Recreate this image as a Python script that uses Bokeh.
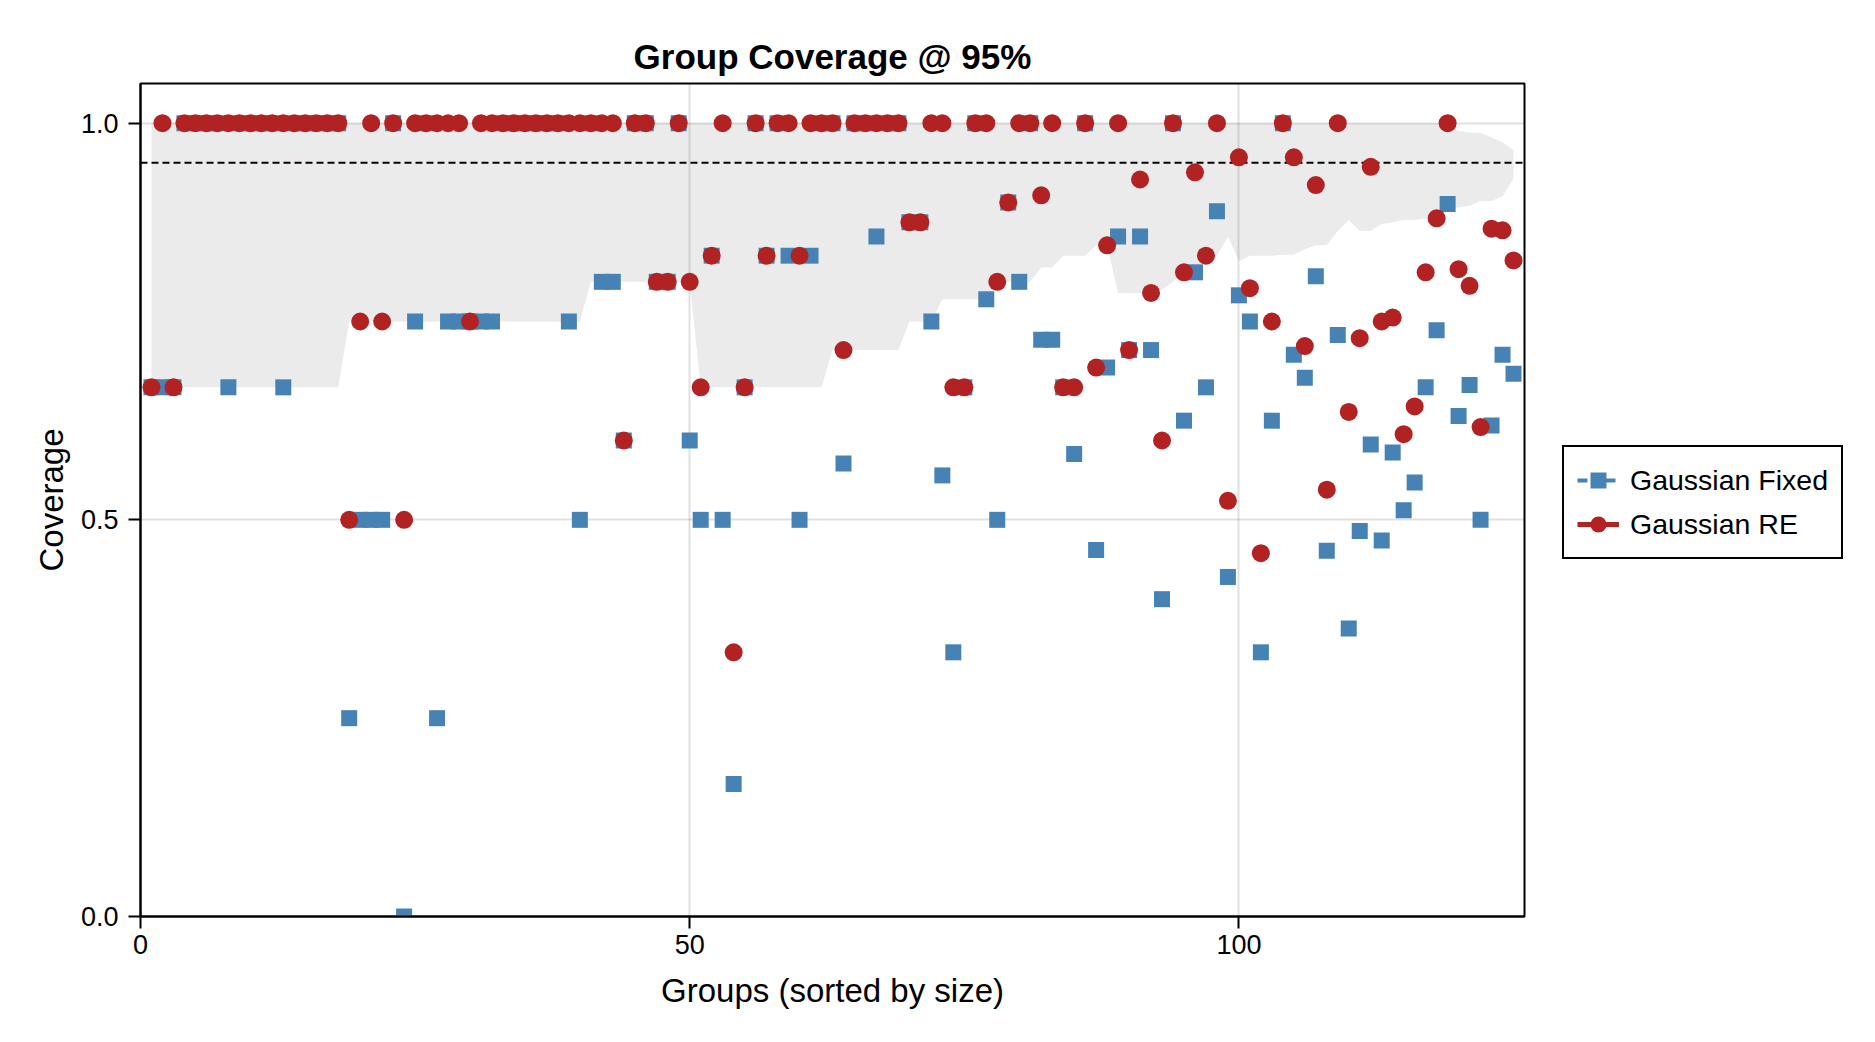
from bokeh.plotting import figure
from bokeh.layouts import row
from bokeh.models import (Span, Legend, LegendItem, FixedTicker,
                          PrintfTickFormatter, Range1d, ColumnDataSource)
from bokeh.embed import file_html
from bokeh.resources import INLINE

# Groups ordered by size
groups = [
    1, 2, 3, 4, 5, 6, 7, 8, 9, 10,
    11, 12, 13, 14, 15, 16, 17, 18, 19, 20,
    21, 22, 23, 24, 25, 26, 27, 28, 29, 30,
    31, 32, 33, 34, 35, 36, 37, 38, 39, 40,
    41, 42, 43, 44, 45, 46, 47, 48, 49, 50,
    51, 52, 53, 54, 55, 56, 57, 58, 59, 60,
    61, 62, 63, 64, 65, 66, 67, 68, 69, 70,
    71, 72, 73, 74, 75, 76, 77, 78, 79, 80,
    81, 82, 83, 84, 85, 86, 87, 88, 89, 90,
    91, 92, 93, 94, 95, 96, 97, 98, 99, 100,
    101, 102, 103, 104, 105, 106, 107, 108, 109, 110,
    111, 112, 113, 114, 115, 116, 117, 118, 119, 120,
    121, 122, 123, 124, 125,
]

# Per-group coverage, Gaussian model with fixed group effects
cov_fixed = [
    0.667, 0.667, 0.667, 1.0, 1.0, 1.0, 1.0, 0.667, 1.0, 1.0,
    1.0, 1.0, 0.667, 1.0, 1.0, 1.0, 1.0, 1.0, 0.25, 0.5,
    0.5, 0.5, 1.0, 0.0, 0.75, 1.0, 0.25, 0.75, 0.75, 0.75,
    0.75, 0.75, 1.0, 1.0, 1.0, 1.0, 1.0, 1.0, 0.75, 0.5,
    1.0, 0.8, 0.8, 0.6, 1.0, 1.0, 0.8, 0.8, 1.0, 0.6,
    0.5, 0.833, 0.5, 0.167, 0.667, 1.0, 0.833, 1.0, 0.833, 0.5,
    0.833, 1.0, 1.0, 0.571, 1.0, 1.0, 0.857, 1.0, 1.0, 0.875,
    0.875, 0.75, 0.556, 0.333, 0.667, 1.0, 0.778, 0.5, 0.9, 0.8,
    1.0, 0.727, 0.727, 0.667, 0.583, 1.0, 0.462, 0.692, 0.857, 0.714,
    0.857, 0.714, 0.4, 1.0, 0.625, 0.812, 0.667, 0.889, 0.428, 0.783,
    0.75, 0.333, 0.625, 1.0, 0.708, 0.679, 0.807, 0.461, 0.733, 0.363,
    0.486, 0.595, 0.474, 0.585, 0.512, 0.547, 0.667, 0.739, 0.898, 0.631,
    0.67, 0.5, 0.619, 0.708, 0.684,
]

# Per-group coverage, Gaussian model with random group effects
cov_re = [
    0.667, 1.0, 0.667, 1.0, 1.0, 1.0, 1.0, 1.0, 1.0, 1.0,
    1.0, 1.0, 1.0, 1.0, 1.0, 1.0, 1.0, 1.0, 0.5, 0.75,
    1.0, 0.75, 1.0, 0.5, 1.0, 1.0, 1.0, 1.0, 1.0, 0.75,
    1.0, 1.0, 1.0, 1.0, 1.0, 1.0, 1.0, 1.0, 1.0, 1.0,
    1.0, 1.0, 1.0, 0.6, 1.0, 1.0, 0.8, 0.8, 1.0, 0.8,
    0.667, 0.833, 1.0, 0.333, 0.667, 1.0, 0.833, 1.0, 1.0, 0.833,
    1.0, 1.0, 1.0, 0.714, 1.0, 1.0, 1.0, 1.0, 1.0, 0.875,
    0.875, 1.0, 1.0, 0.667, 0.667, 1.0, 1.0, 0.8, 0.9, 1.0,
    1.0, 0.909, 1.0, 0.667, 0.667, 1.0, 0.692, 0.846, 1.0, 0.714,
    0.929, 0.786, 0.6, 1.0, 0.812, 0.938, 0.833, 1.0, 0.524, 0.957,
    0.792, 0.458, 0.75, 1.0, 0.957, 0.719, 0.922, 0.538, 1.0, 0.636,
    0.729, 0.945, 0.75, 0.755, 0.608, 0.643, 0.812, 0.88, 1.0, 0.816,
    0.795, 0.617, 0.867, 0.865, 0.827,
]

# Expected sampling range of coverage for each group (lower / upper edge)
band_lo = [
    0.667, 0.667, 0.667, 0.667, 0.667, 0.667, 0.667, 0.667, 0.667, 0.667,
    0.667, 0.667, 0.667, 0.667, 0.667, 0.667, 0.667, 0.667, 0.75, 0.75,
    0.75, 0.75, 0.75, 0.75, 0.75, 0.75, 0.75, 0.75, 0.75, 0.75,
    0.75, 0.75, 0.75, 0.75, 0.75, 0.75, 0.75, 0.75, 0.75, 0.75,
    0.8, 0.8, 0.8, 0.8, 0.8, 0.8, 0.8, 0.8, 0.8, 0.8,
    0.667, 0.667, 0.667, 0.667, 0.667, 0.667, 0.667, 0.667, 0.667, 0.667,
    0.667, 0.667, 0.714, 0.714, 0.714, 0.714, 0.714, 0.714, 0.714, 0.75,
    0.75, 0.75, 0.778, 0.778, 0.778, 0.778, 0.778, 0.8, 0.8, 0.8,
    0.8, 0.818, 0.818, 0.833, 0.833, 0.833, 0.846, 0.846, 0.786, 0.786,
    0.786, 0.786, 0.79, 0.8, 0.812, 0.812, 0.833, 0.833, 0.857, 0.826,
    0.833, 0.833, 0.833, 0.834, 0.834, 0.841, 0.846, 0.846, 0.864, 0.878,
    0.864, 0.864, 0.873, 0.875, 0.878, 0.878, 0.88, 0.884, 0.888, 0.894,
    0.896, 0.902, 0.902, 0.908, 0.93,
]
band_hi = [
    1.0, 1.0, 1.0, 1.0, 1.0, 1.0, 1.0, 1.0, 1.0, 1.0,
    1.0, 1.0, 1.0, 1.0, 1.0, 1.0, 1.0, 1.0, 1.0, 1.0,
    1.0, 1.0, 1.0, 1.0, 1.0, 1.0, 1.0, 1.0, 1.0, 1.0,
    1.0, 1.0, 1.0, 1.0, 1.0, 1.0, 1.0, 1.0, 1.0, 1.0,
    1.0, 1.0, 1.0, 1.0, 1.0, 1.0, 1.0, 1.0, 1.0, 1.0,
    1.0, 1.0, 1.0, 1.0, 1.0, 1.0, 1.0, 1.0, 1.0, 1.0,
    1.0, 1.0, 1.0, 1.0, 1.0, 1.0, 1.0, 1.0, 1.0, 1.0,
    1.0, 1.0, 1.0, 1.0, 1.0, 1.0, 1.0, 1.0, 1.0, 1.0,
    1.0, 1.0, 1.0, 1.0, 1.0, 1.0, 1.0, 1.0, 1.0, 1.0,
    1.0, 1.0, 1.0, 1.0, 1.0, 1.0, 1.0, 1.0, 1.0, 1.0,
    1.0, 1.0, 1.0, 1.0, 1.0, 1.0, 1.0, 1.0, 1.0, 1.0,
    1.0, 1.0, 1.0, 1.0, 1.0, 1.0, 1.0, 1.0, 1.0, 0.99,
    0.988, 0.988, 0.982, 0.976, 0.966,
]

nominal = 0.95
x_ticks = [0, 50, 100]
y_ticks = [0.0, 0.5, 1.0]
series_names = ["Gaussian Fixed", "Gaussian RE"]

FONT = "Liberation Sans"
BLUE = "#4682B4"
RED = "#B22222"

p = figure(
    width=1526, height=1042,
    x_range=Range1d(0, 126), y_range=Range1d(0, 1.05),
    output_backend="svg", toolbar_location=None,
    min_border_left=140, min_border_right=2,
    min_border_top=83, min_border_bottom=126,
    title="Group Coverage @ 95%",
)
p.background_fill_color = "white"
p.border_fill_color = "white"
p.outline_line_color = "black"
p.outline_line_width = 2

p.title.text_font = FONT
p.title.text_font_size = "35px"
p.title.text_font_style = "bold"
p.title.text_color = "black"
p.title.align = "center"
p.title.standoff = 15

# Shaded expected range, kept beneath the grid
p.varea(x=groups, y1=band_lo, y2=band_hi, fill_color="#ebebeb", level="image")

# Nominal coverage reference
p.add_layout(Span(location=nominal, dimension="width", line_color="black",
                  line_width=2, line_dash="7 4", level="underlay"))

p.scatter(groups, cov_fixed, marker="square", size=16,
          fill_color=BLUE, line_color=None)
p.scatter(groups, cov_re, marker="circle", size=18,
          fill_color=RED, line_color=None)

for grid in (p.xgrid, p.ygrid):
    grid.grid_line_color = "black"
    grid.grid_line_alpha = 0.12
    grid.grid_line_width = 2
p.xgrid.ticker = FixedTicker(ticks=x_ticks)
p.ygrid.ticker = FixedTicker(ticks=y_ticks)

p.xaxis.ticker = FixedTicker(ticks=x_ticks)
p.yaxis.ticker = FixedTicker(ticks=y_ticks)
p.yaxis.formatter = PrintfTickFormatter(format="%.1f")
p.xaxis.axis_label = "Groups (sorted by size)"
p.yaxis.axis_label = "Coverage"

for ax in (p.xaxis[0], p.yaxis[0]):
    ax.axis_line_color = "black"
    ax.axis_line_width = 2
    ax.major_tick_line_color = "black"
    ax.major_tick_line_width = 2
    ax.major_tick_out = 12
    ax.major_tick_in = 0
    ax.minor_tick_out = 0
    ax.minor_tick_in = 0
    ax.major_label_text_font = FONT
    ax.major_label_text_font_size = "27px"
    ax.major_label_text_color = "black"
    ax.axis_label_text_font = FONT
    ax.axis_label_text_font_size = "33px"
    ax.axis_label_text_font_style = "normal"
    ax.axis_label_text_color = "black"

p.xaxis.major_label_standoff = 6
p.xaxis.axis_label_standoff = 15
p.yaxis.major_label_standoff = 10
p.yaxis.axis_label_standoff = 8

# Side panel holding the legend, to the right of the plot frame
leg = figure(
    width=349, height=1042, x_range=Range1d(0, 1), y_range=Range1d(0, 1),
    output_backend="svg", toolbar_location=None, min_border=0,
)
leg.axis.visible = False
leg.grid.visible = False
leg.outline_line_color = None
leg.background_fill_color = "white"
leg.border_fill_color = "white"

# Swatch renderers: a single undefined point, so nothing is drawn but the key
swatch = ColumnDataSource(data=dict(x=[float("nan")], y=[float("nan")]))
k_fixed_line = leg.line("x", "y", source=swatch, line_color=BLUE, line_width=4,
                        line_dash="10 4")
k_fixed_mark = leg.scatter("x", "y", source=swatch, marker="square",
                           fill_color=BLUE, line_color=None)
k_re_line = leg.line("x", "y", source=swatch, line_color=RED, line_width=5)
k_re_mark = leg.scatter("x", "y", source=swatch, marker="circle",
                        fill_color=RED, line_color=None)

legend = Legend(items=[
    LegendItem(label=series_names[0], renderers=[k_fixed_line, k_fixed_mark]),
    LegendItem(label=series_names[1], renderers=[k_re_line, k_re_mark]),
])
# offset from the lower-left corner of the (row-aligned) frame
legend.location = (36, 357)
legend.label_text_font = FONT
legend.label_text_font_size = "28.5px"
legend.label_text_color = "black"
legend.glyph_width = 42
legend.glyph_height = 40
legend.label_height = 40
legend.label_standoff = 11
legend.spacing = 4
legend.padding = 13
legend.margin = 0
legend.border_line_color = "black"
legend.border_line_width = 2
legend.border_line_alpha = 1.0
legend.background_fill_color = "white"
legend.background_fill_alpha = 1.0
leg.add_layout(legend)

layout = row(p, leg, spacing=0)
open("out.html", "w").write(file_html(layout, INLINE))
